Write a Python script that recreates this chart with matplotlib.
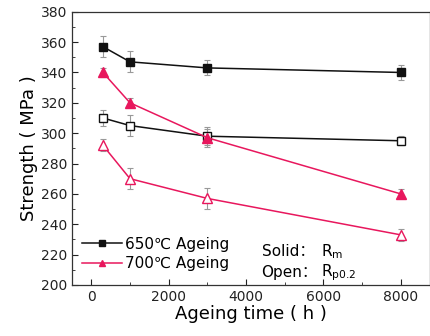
import matplotlib
matplotlib.use("Agg")
import matplotlib.pyplot as plt
from matplotlib.lines import Line2D
from matplotlib.ticker import MultipleLocator

plt.rcParams['font.family'] = ['DejaVu Sans', 'Noto Sans CJK SC']

# Ageing time (h)
times = [300, 1000, 3000, 8000]

# Strength (MPa)
rm_650 = [357, 347, 343, 340]
rp_650 = [310, 305, 298, 295]
rm_700 = [340, 320, 297, 260]
rp_700 = [292, 270, 257, 233]

# error bar half-widths
err_rm_650 = [7, 7, 5, 5]
err_rp_650 = [5, 7, 6, 3]
err_rm_700 = [3, 3, 6, 3]
err_rp_700 = [4, 7, 7, 4]

black = '#111111'
red = '#e8175d'
errc = '#999999'

fig = plt.figure(figsize=(4.31, 3.36), dpi=100)
ax = fig.add_axes([0.167, 0.152, 0.83, 0.813])

def series(y, err, color, filled, marker, ms):
    ax.errorbar(times, y, yerr=err, fmt='none', ecolor=errc, elinewidth=0.8,
                capsize=2.5, capthick=0.8, zorder=2)
    ax.plot(times, y, color=color, lw=1.1, marker=marker, ms=ms,
            markerfacecolor=color if filled else 'white',
            markeredgecolor=color, markeredgewidth=1.0, zorder=3)

series(rm_650, err_rm_650, black, True, 's', 6)
series(rp_650, err_rp_650, black, False, 's', 6)
series(rm_700, err_rm_700, red, True, '^', 7)
series(rp_700, err_rp_700, red, False, '^', 7)

ax.set_xlim(-500, 8750)
ax.set_ylim(200, 380)
ax.xaxis.set_major_locator(MultipleLocator(2000))
ax.xaxis.set_minor_locator(MultipleLocator(1000))
ax.yaxis.set_major_locator(MultipleLocator(20))
ax.yaxis.set_minor_locator(MultipleLocator(10))
ax.tick_params(which='both', direction='in', labelsize=10, colors='#222222')
ax.tick_params(which='major', length=4)
ax.tick_params(which='minor', length=2)
for s in ax.spines.values():
    s.set_color('#333333')
    s.set_linewidth(0.9)

ax.set_xlabel('Ageing time ( h )', fontsize=13, labelpad=1)
ax.set_ylabel('Strength ( MPa )', fontsize=13, labelpad=2)

handles = [
    Line2D([], [], color=black, marker='s', ms=5, lw=1.1),
    Line2D([], [], color=red, marker='^', ms=5, lw=1.1),
]
ax.legend(handles, ['650℃ Ageing', '700℃ Ageing'], loc='lower left',
          bbox_to_anchor=(-0.01, 0.0), frameon=False, fontsize=11,
          handlelength=2.6, handletextpad=0.2, labelspacing=0.3)

fam = ['DejaVu Sans', 'Noto Sans CJK SC']
ax.text(0.53, 0.105, 'Solid：', transform=ax.transAxes, fontsize=11, family=fam)
ax.text(0.695, 0.105, r'R$\mathregular{_{m}}$', transform=ax.transAxes, fontsize=11)
ax.text(0.53, 0.03, 'Open：', transform=ax.transAxes, fontsize=11, family=fam)
ax.text(0.695, 0.03, r'R$\mathregular{_{p0.2}}$', transform=ax.transAxes, fontsize=11)

fig.savefig('out.png', dpi=100)
